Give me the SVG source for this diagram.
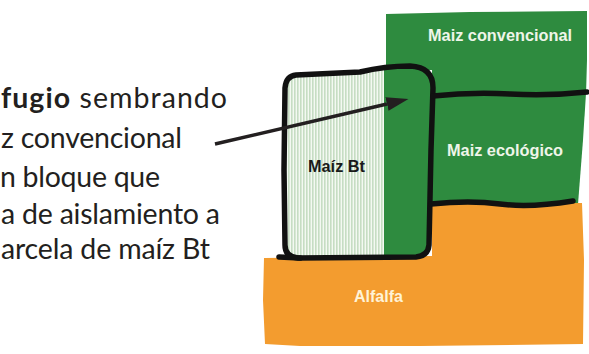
<svg xmlns="http://www.w3.org/2000/svg" width="589" height="354" viewBox="0 0 589 354">
<style>
.body{font-family:Lato,"Liberation Sans",sans-serif;font-size:28.5px;fill:#231f20}
.lab{font-family:"Liberation Sans",Arial,sans-serif;font-size:16px;font-weight:bold;text-anchor:middle}
.w{fill:#eef5e9}
.edge{fill:none;stroke:#111;stroke-width:5.5;stroke-linecap:round;stroke-linejoin:round}
</style>
<defs>
<pattern id="stripes" width="3" height="10" patternUnits="userSpaceOnUse">
<rect width="3" height="10" fill="#f4f9f2"/>
<rect width="1.6" height="10" fill="#c6ddc3"/>
</pattern>
<clipPath id="boxclip">
<path d="M296,75 L360,72 Q385,66 410,66 Q433,67 433,88 L431,150 L429,245 Q428,256 416,257 L298,258 Q285,257 285,245 L284,170 L285,88 Q286,76 296,75 Z"/>
</clipPath>
<marker id="ah" viewBox="0 0 22 14" refX="0" refY="7" markerWidth="22" markerHeight="14" orient="auto" markerUnits="userSpaceOnUse">
<path d="M0,0 L22,7 L0,14 Z" fill="#231f20"/>
</marker>
</defs>
<rect width="589" height="354" fill="#ffffff"/>

<g id="text-left">
<text class="body" x="1" y="108" textLength="226" lengthAdjust="spacing"><tspan font-weight="bold">fugio</tspan> sembrando</text>
<text class="body" x="1" y="148" textLength="181" lengthAdjust="spacing">z convencional</text>
<text class="body" x="0" y="187" textLength="160" lengthAdjust="spacing">n bloque que</text>
<text class="body" x="1" y="224" textLength="219" lengthAdjust="spacing">a de aislamiento a</text>
<text class="body" x="1" y="259" textLength="209" lengthAdjust="spacing">arcela de maíz Bt</text>
</g>

<g id="maiz-convencional">
<path d="M386,14 L470,12 L587,11 L587,60 L586,95 L432,96 L432,70 L386,72 Z" fill="#2e8b3f"/>
<text class="lab w" x="500" y="41" textLength="144" lengthAdjust="spacingAndGlyphs">Maiz convencional</text>
</g>

<g id="maiz-ecologico">
<path d="M432,94 L586,93 L583,140 L578,204 L432,205 Z" fill="#2e8b3f"/>
<text class="lab w" x="505" y="156" textLength="116" lengthAdjust="spacingAndGlyphs">Maiz ecológico</text>
</g>

<g id="alfalfa">
<path d="M264,258 L432,256 L432,204 L582,203 L584,260 L583,344 L420,346 L300,346 L265,344 L263,300 Z" fill="#f39c2f"/>
<text class="lab" x="378.5" y="302" fill="#fff3d6" textLength="49" lengthAdjust="spacingAndGlyphs">Alfalfa</text>
</g>

<g id="maiz-bt">
<g clip-path="url(#boxclip)">
<rect x="280" y="60" width="104" height="205" fill="url(#stripes)"/>
<rect x="384" y="60" width="52" height="205" fill="#2e8b3f"/>
</g>
<path class="edge" d="M296,75 L360,72 Q385,66 410,66 Q433,67 433,88 L431,150 L429,245 Q428,256 416,257 L298,258 Q285,257 285,245 L284,170 L285,88 Q286,76 296,75 Z"/>
<text class="lab" x="336.5" y="172" fill="#1a1a1a" textLength="57" lengthAdjust="spacingAndGlyphs">Maíz Bt</text>
</g>

<g id="connectors">
<path class="edge" d="M433,96 Q470,92 510,94 T587,92"/>
<path class="edge" d="M431,204 Q470,200 500,204 T573,201"/>
<path class="edge" d="M279,257 L300,258"/>
<line x1="215" y1="144" x2="387" y2="104" stroke="#231f20" stroke-width="3.5" marker-end="url(#ah)"/>
</g>
</svg>
